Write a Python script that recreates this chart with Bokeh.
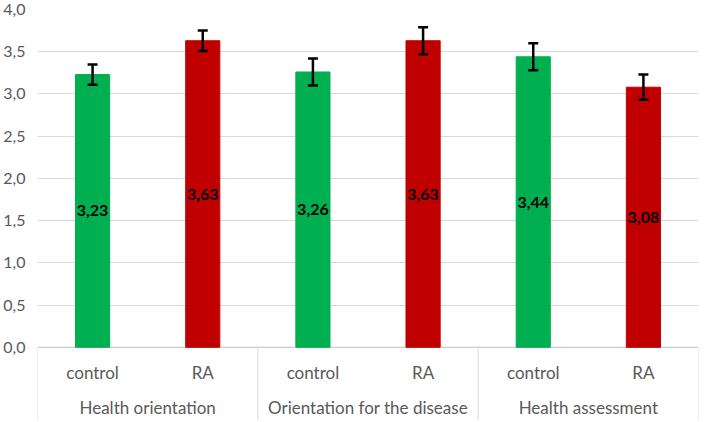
from bokeh.plotting import figure
from bokeh.models import (ColumnDataSource, FactorRange, FixedTicker, Whisker, TeeHead,
                          Range1d, LinearAxis)
from bokeh.core.properties import value
from bokeh.embed import file_html
from bokeh.resources import INLINE

groups = ["Health orientation", "Orientation for the disease", "Health assessment"]
subgroups = ["control", "RA"]
means = [3.23, 3.63, 3.26, 3.63, 3.44, 3.08]
errors = [0.12, 0.12, 0.16, 0.16, 0.16, 0.15]
bar_colors = ["#00b050", "#c00000"] * 3
y_ticks = [0.0, 0.5, 1.0, 1.5, 2.0, 2.5, 3.0, 3.5, 4.0]
y_tick_labels = ["0,0", "0,5", "1,0", "1,5", "2,0", "2,5", "3,0", "3,5", "4,0"]

factors = [(g, s) for g in groups for s in subgroups]

FONT = "Lato"
GRAY = "#595959"
GRID = "#d9d9d9"
LABEL_AREA = 0.867

src = ColumnDataSource(dict(
    x=factors, top=means,
    upper=[m + e for m, e in zip(means, errors)],
    lower=[m - e for m, e in zip(means, errors)],
    mid=[m / 2 for m in means],
    label=[f"{m:.2f}".replace(".", ",") for m in means],
    color=bar_colors,
))

xr = FactorRange(*factors, group_padding=0, factor_padding=0, range_padding=0)
p = figure(width=700, height=420, x_range=xr, y_range=Range1d(-LABEL_AREA, 4.0),
           output_backend="svg", toolbar_location=None, x_axis_location=None,
           y_axis_location=None,
           min_border_left=29, min_border_right=2, min_border_top=9, min_border_bottom=0)
p.outline_line_color = None
p.background_fill_color = "white"

yaxis = LinearAxis(ticker=FixedTicker(ticks=y_ticks))
yaxis.major_label_overrides = {t: l for t, l in zip(y_ticks, y_tick_labels)}
yaxis.axis_line_color = None
yaxis.major_tick_line_color = None
yaxis.minor_tick_line_color = None
yaxis.major_label_standoff = 6
yaxis.major_label_text_font = FONT
yaxis.major_label_text_font_size = "16px"
yaxis.major_label_text_color = GRAY
p.add_layout(yaxis, "left")

p.xgrid.visible = False
p.ygrid.ticker = FixedTicker(ticks=y_ticks[1:])
p.ygrid.grid_line_color = GRID
p.ygrid.grid_line_width = 1

# baseline and category separators (axis decoration)
p.segment(x0=[0], y0=[0], x1=[len(factors)], y1=[0], line_color="#bfbfbf", line_width=1)
sep_x = [i * len(subgroups) for i in range(len(groups) + 1)]
p.segment(x0=sep_x, y0=[0] * len(sep_x), x1=sep_x, y1=[-LABEL_AREA] * len(sep_x),
          line_color=GRID, line_width=1)

p.vbar(x="x", top="top", width=0.31, color="color", source=src)

wh = Whisker(source=src, base="x", upper="upper", lower="lower",
             line_color="black", line_width=2.5, level="overlay",
             upper_head=TeeHead(size=10, line_width=2.5, line_color="black"),
             lower_head=TeeHead(size=10, line_width=2.5, line_color="black"))
p.add_layout(wh)

p.text(x="x", y="mid", text="label", source=src, text_align="center",
       text_baseline="middle", text_font=value(FONT), text_font_style="bold",
       text_font_size="16px", text_color="black")

p.text(x=factors, y=[-0.293] * len(factors), text=[f[1] for f in factors],
       text_align="center", text_baseline="middle", text_font=value(FONT),
       text_font_size="17px", text_color=GRAY)
p.text(x=groups, y=[-0.714] * len(groups), text=groups,
       text_align="center", text_baseline="middle", text_font=value(FONT),
       text_font_size="17px", text_color=GRAY)

open("out.html", "w").write(file_html(p, INLINE))
